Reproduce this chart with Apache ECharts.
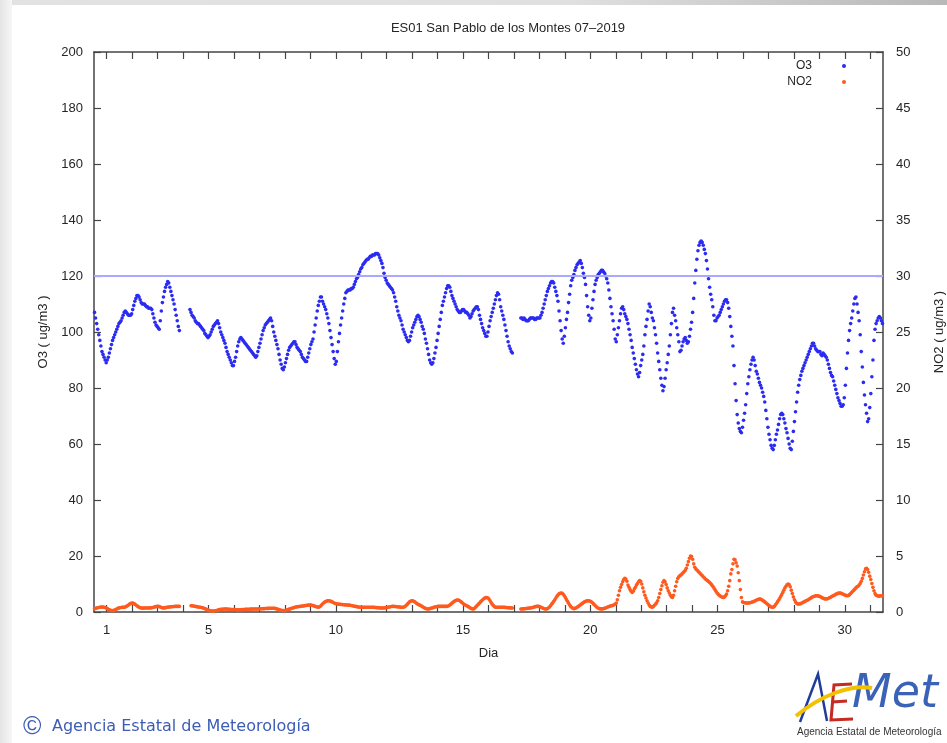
<!DOCTYPE html>
<html>
<head>
<meta charset="utf-8">
<script src="https://cdn.jsdelivr.net/npm/echarts@6/dist/echarts.min.js"></script>
<style>
html,body{margin:0;padding:0;background:#fff;}
#c{width:947px;height:743px;}
</style>
</head>
<body>
<div id="c"></div>
<script>
// ---- data (hourly, one row per day, 24 values) ----
const title = 'ES01 San Pablo de los Montes 07\u20132019';
const xLabels = [1, 5, 10, 15, 20, 25, 30];
const dayTicks = [1,2,3,4,5,6,7,8,9,10,11,12,13,14,15,16,17,18,19,20,21,22,23,24,25,26,27,28,29,30,31];
const o3Ticks = [0,20,40,60,80,100,120,140,160,180,200];
const no2Ticks = [0,5,10,15,20,25,30,35,40,45,50];
const o3Limit = 120;
const _ = null;

const o3 = [
107,105,103,101,99,97,95,93,92,91,90,89,90,91,92.5,94,95.5,97,98,99,100,101,102,103,
103.5,104,105,106,107,107.5,107,106.5,106,106,106,106.5,108,109.5,111,112,113,113,112.5,111.5,110.5,110,110,110,
109.5,109,109,108.5,108.5,108.5,108,106.5,105,103.5,102.5,102,101.5,101,104,107.5,110.5,112.5,114.5,116,117,118,117.5,116,
114.5,113,111.5,110,108,106,104,102,100.5,_,_,_,_,_,_,_,_,_,108,107,106,105.5,105,104,
103.5,103,103,102.5,102,101.5,101,100.5,99.5,99,98.5,98,98.5,99,100,101,102,102.5,103,103.5,104,103,101.5,100,
99,98,97,96,94.5,93,92,91,90,89,88,88,89.5,91,93,95,96.5,97.5,98,97.5,97,96.5,96,95.5,
95,94.5,94,93.5,93,92.5,92,91.5,91,91.5,93,94.5,96,97.5,99,100.5,101.5,102.5,103,103.5,104,104.5,105,104,
102,100,98.5,97,95.5,94,92,90,88.5,87,86.5,87.5,89,90.5,92,93.5,94.5,95,95.5,96,96.5,96.5,95.5,94.5,
94,93.5,93,92,91,90.5,90,89.5,89.5,91,92.5,94,95.5,96.5,97.5,100,102.5,105,107.5,109.5,111,112.5,112.5,111,
110,109,108,106.5,105,103,100.5,98,95.5,93,90.5,88.5,89.5,93,96.5,99.5,102.5,105,107.5,110,112,114,114.5,115,
115,115,115.5,115.5,116,117,118,119,119.5,120.5,121.5,122.5,123,124,124.5,125,125.5,126,126,126.5,127,127,127.5,127.5,
127.5,128,128,128,127.5,126.5,125.5,124.5,123,121,119.5,118.5,117.5,117,116.5,116,115.5,115,114,112.5,111,109,107.5,106,
105,104,102.5,101,100,99,98,97,96.5,97,98.5,100,101.5,102.5,103.5,104.5,105.5,106,105.5,104.5,103.5,102,101,99.5,
97.5,96,94,92,90,89,88.5,89,90.5,92.5,94.5,97,99.5,102,104.5,107,109.5,111,112.5,114,115.5,116.5,116.5,116,
114.5,113,112,111,110,109,108,107.5,107,107,107.5,108,108,107.5,107,107,106.5,106,105,105.5,106.5,107.5,108,108.5,
109,109,108,106,104.5,103,101.5,100.5,99.5,98.5,98.5,100,102,104,105.5,107,108.5,110,111.5,113,114,113.5,111.5,109,
107.5,106,104.5,102.5,100.5,98.5,96.5,95,94,93,92.5,_,_,_,_,_,_,_,105,105,104.5,105,104.5,104,
104,104,104.5,105,105,105,105,104.5,104.5,105,105,105,105,106,107,108.5,110,111.5,113,114.5,115.5,116.5,117.5,118,
118,117.5,116,114.5,113,111,107.5,104,100.5,97.5,96,98.5,101.5,104.5,107,110.5,113.5,116.5,118.5,119.5,120.5,122,123,124,
124.5,125,125.5,124.5,123,121,119.5,117,113,109,106,104,105,108.5,111.5,114.5,117,118.5,119.5,120.5,121,121.5,122,122,
121.5,121,120,119,117.5,115,112,109,106.5,104,101,97.5,96.5,99,101.5,104,106.5,108.5,109,108,106.5,105.5,104.5,103,
101,99,97,94.5,92.5,90.5,88.5,86.5,85,84,85.5,88,90,92,95,99,102,104.5,107.5,110,109,107,105,104,
101.5,99,96,92.5,89.5,86.5,83.5,81,79,80.5,83.5,86.5,89,92,95,99,103,107,108.5,106,104,101.5,99,96.5,
93,93.5,95,96.5,97.5,98,97,96,96.5,98.5,101,103.5,107,112,117.5,122,126,129,131,132,132.5,132,131,129.5,
128,125.5,122.5,119,116,113.5,111.5,109,106,104,104,105,105.5,106,107,108,109,110,111,111.5,111.5,110.5,108.5,105.5,
102,98.5,95,88,81.5,75.5,70.5,67.5,65.5,64.5,64,66,68.5,71,74,78,81.5,84,86.5,88.5,90,91,90,88,
86,85,83.5,82,81,80,78.5,77,75,72,69,66,63.5,61.5,59.5,58.5,58,59.5,61.5,63.5,65,67,69,70.5,
71,70.5,69,67.5,65.5,64,62,60,58.5,58,61,64.5,68,71.5,75,78.5,81,83,84.5,86,87,88,89,90,
91,92,93,94,95,96,96,95,94,93.5,93,93,93,92,91.5,92.5,92,91.5,91,90,88.5,87,85.5,84.5,
84,82.5,81,79.5,78,76.5,75.5,74.5,73.5,73.5,74,76.5,81,87,92.5,97,100.5,103,105,107.5,110,112,112.5,110,
107,104,99,93,87.5,82,77.5,74,71,68,69,73,78,84,90,97,101,103,104,105,105.5,105,104,103
];

const no2 = [
0.3,0.32,0.35,0.38,0.4,0.42,0.44,0.45,0.45,0.43,0.4,0.35,0.3,0.25,0.2,0.15,0.12,0.12,0.14,0.18,0.22,0.27,0.32,0.36,
0.38,0.4,0.42,0.42,0.43,0.45,0.5,0.56,0.63,0.7,0.76,0.8,0.8,0.76,0.7,0.62,0.55,0.48,0.42,0.38,0.36,0.35,0.35,0.36,
0.36,0.36,0.36,0.36,0.36,0.37,0.38,0.4,0.43,0.46,0.48,0.5,0.5,0.48,0.44,0.4,0.37,0.36,0.37,0.39,0.41,0.43,0.44,0.45,
0.46,0.47,0.48,0.49,0.5,0.5,0.5,0.5,0.5,_,_,_,_,_,_,_,_,_,_,0.56,0.56,0.54,0.52,0.5,
0.48,0.46,0.45,0.43,0.42,0.4,0.37,0.33,0.3,0.26,0.22,0.18,0.14,0.11,0.09,0.08,0.08,0.09,0.11,0.13,0.16,0.19,0.21,0.23,
0.24,0.25,0.26,0.27,0.27,0.26,0.25,0.24,0.23,0.22,0.22,0.21,0.21,0.2,0.2,0.2,0.2,0.2,0.2,0.21,0.22,0.22,0.23,0.24,
0.24,0.25,0.25,0.26,0.26,0.27,0.27,0.27,0.27,0.27,0.27,0.28,0.28,0.29,0.29,0.3,0.3,0.31,0.31,0.32,0.32,0.33,0.33,0.33,
0.33,0.33,0.32,0.3,0.27,0.24,0.21,0.18,0.15,0.13,0.12,0.12,0.14,0.17,0.2,0.23,0.26,0.3,0.33,0.36,0.39,0.42,0.44,0.46,
0.48,0.49,0.5,0.51,0.53,0.54,0.56,0.58,0.59,0.6,0.61,0.62,0.62,0.6,0.57,0.54,0.5,0.47,0.44,0.42,0.44,0.52,0.62,0.72,
0.8,0.88,0.94,0.98,1.0,1.0,0.98,0.95,0.9,0.85,0.8,0.76,0.73,0.71,0.7,0.69,0.68,0.67,0.66,0.65,0.64,0.63,0.62,0.62,
0.61,0.6,0.58,0.56,0.54,0.52,0.5,0.48,0.46,0.44,0.43,0.42,0.42,0.42,0.42,0.42,0.42,0.42,0.42,0.42,0.42,0.42,0.42,0.42,
0.41,0.4,0.39,0.38,0.37,0.37,0.36,0.36,0.36,0.36,0.37,0.39,0.41,0.43,0.45,0.47,0.49,0.5,0.5,0.49,0.48,0.47,0.46,0.45,
0.44,0.43,0.42,0.42,0.45,0.52,0.6,0.7,0.8,0.9,0.96,1.0,1.0,0.96,0.9,0.82,0.75,0.69,0.64,0.6,0.55,0.49,0.43,0.37,
0.32,0.29,0.27,0.27,0.29,0.32,0.35,0.38,0.41,0.44,0.47,0.49,0.5,0.5,0.5,0.5,0.5,0.5,0.5,0.5,0.5,0.52,0.56,0.62,
0.7,0.78,0.86,0.94,1.0,1.04,1.07,1.07,1.03,0.96,0.88,0.8,0.72,0.65,0.6,0.56,0.5,0.44,0.38,0.32,0.28,0.27,0.3,0.4,
0.5,0.6,0.7,0.8,0.9,1.0,1.1,1.18,1.24,1.28,1.3,1.25,1.15,1.0,0.85,0.7,0.58,0.48,0.43,0.42,0.42,0.42,0.42,0.42,
0.42,0.42,0.42,0.41,0.4,0.39,0.38,0.37,0.37,0.36,0.36,_,_,_,_,_,_,_,0.27,0.27,0.28,0.29,0.3,0.31,
0.32,0.34,0.35,0.36,0.38,0.4,0.43,0.46,0.48,0.5,0.5,0.5,0.47,0.43,0.38,0.33,0.29,0.27,0.27,0.3,0.36,0.44,0.55,0.7,
0.8,0.95,1.1,1.25,1.4,1.52,1.62,1.67,1.69,1.66,1.58,1.45,1.3,1.12,0.95,0.78,0.62,0.5,0.4,0.33,0.3,0.32,0.36,0.42,
0.48,0.55,0.62,0.7,0.77,0.84,0.9,0.95,0.98,1.0,1.0,0.98,0.93,0.86,0.78,0.68,0.58,0.48,0.4,0.34,0.3,0.28,0.27,0.28,
0.3,0.33,0.36,0.4,0.44,0.48,0.52,0.55,0.57,0.6,0.65,0.72,0.8,1.1,1.5,1.9,2.2,2.45,2.7,2.9,3.0,2.95,2.75,2.4,
2.2,2.0,1.85,1.75,1.85,2.05,2.2,2.4,2.55,2.7,2.8,2.75,2.5,2.15,1.8,1.5,1.25,1.0,0.8,0.62,0.5,0.44,0.42,0.5,
0.6,0.7,0.82,1.0,1.3,1.65,2.0,2.35,2.65,2.8,2.7,2.45,2.15,1.9,1.7,1.5,1.35,1.3,1.5,1.9,2.3,2.7,3.0,3.15,
3.25,3.3,3.4,3.5,3.62,3.7,3.9,4.2,4.5,4.8,5.0,4.95,4.7,4.3,4.0,3.85,3.75,3.65,3.55,3.45,3.35,3.25,3.15,3.05,
2.95,2.88,2.8,2.72,2.64,2.54,2.42,2.3,2.15,2.0,1.85,1.7,1.6,1.5,1.42,1.36,1.32,1.3,1.35,1.45,1.6,1.9,2.3,2.8,
3.4,3.8,4.3,4.7,4.65,4.4,4.1,3.5,2.8,2.0,1.3,0.9,0.85,0.82,0.8,0.8,0.8,0.8,0.82,0.85,0.88,0.92,0.96,1.0,
1.05,1.1,1.14,1.16,1.15,1.1,1.04,0.97,0.9,0.82,0.74,0.66,0.58,0.5,0.45,0.42,0.42,0.5,0.62,0.76,0.9,1.05,1.2,1.38,
1.55,1.75,1.95,2.15,2.3,2.42,2.5,2.45,2.25,1.95,1.65,1.35,1.1,0.9,0.78,0.72,0.71,0.72,0.75,0.8,0.85,0.9,0.95,1.0,
1.05,1.1,1.16,1.22,1.28,1.33,1.38,1.41,1.44,1.45,1.44,1.42,1.38,1.33,1.28,1.23,1.19,1.17,1.16,1.18,1.22,1.27,1.32,1.37,
1.42,1.47,1.52,1.57,1.62,1.66,1.69,1.69,1.67,1.63,1.58,1.53,1.49,1.46,1.45,1.48,1.55,1.65,1.75,1.85,1.95,2.05,2.15,2.25,
2.3,2.4,2.55,2.75,3.0,3.3,3.6,3.85,3.9,3.8,3.55,3.2,2.9,2.55,2.2,1.9,1.65,1.5,1.45,1.42,1.42,1.43,1.45,1.45
];

// x position of hourly sample i: day (1..31) centred on the integer, 24 samples each
function toPairs(arr) {
  return arr.map((v, i) => [0.5 + (i + 0.5) / 24, v]);
}

const chart = echarts.init(document.getElementById('c'), null, {renderer: 'canvas'});
const FONT = 'Liberation Sans, Arial, Helvetica, sans-serif';
const axisColor = '#454545';
const labelColor = '#262626';

chart.setOption({
  animation: false,
  backgroundColor: '#ffffff',
  textStyle: {fontFamily: FONT},
  title: {
    text: title, left: 508, top: 22, textAlign: 'center', padding: 0,
    textStyle: {fontSize: 13, fontWeight: 'normal', color: '#262626', fontFamily: FONT}
  },
  legend: {
    data: ['O3', 'NO2'], orient: 'vertical', align: 'right',
    right: 101, top: 59, padding: 0, itemGap: 2,
    icon: 'circle', itemWidth: 4, itemHeight: 4,
    textStyle: {fontSize: 12, color: labelColor, fontFamily: FONT, padding: [0, 25, 0, 0], lineHeight: 14}
  },
  grid: {left: 94, right: 64, top: 52, bottom: 131, containLabel: false, outerBoundsMode: 'none'},
  xAxis: [{
    type: 'value', min: 0.5, max: 31.5, position: 'bottom',
    name: 'Dia', nameLocation: 'middle', nameGap: 35,
    nameTextStyle: {fontSize: 13, color: labelColor, fontFamily: FONT},
    axisLine: {show: true, onZero: false, lineStyle: {color: axisColor, width: 1.5}},
    axisTick: {show: true, inside: true, length: 7, customValues: dayTicks, lineStyle: {color: axisColor, width: 1.2}},
    axisLabel: {customValues: xLabels, fontSize: 13, color: labelColor, margin: 12, fontFamily: FONT},
    splitLine: {show: false}
  }, {
    type: 'value', min: 0.5, max: 31.5, position: 'top',
    axisLine: {show: true, onZero: false, lineStyle: {color: axisColor, width: 1.5}},
    axisTick: {show: true, inside: true, length: 7, customValues: dayTicks, lineStyle: {color: axisColor, width: 1.2}},
    axisLabel: {show: false},
    splitLine: {show: false}
  }],
  yAxis: [{
    type: 'value', min: 0, max: 200, interval: 20, position: 'left',
    name: 'O3 ( ug/m3 )', nameLocation: 'middle', nameGap: 25, nameRotate: 90,
    nameTextStyle: {fontSize: 13, color: labelColor, fontFamily: FONT},
    axisLine: {show: true, lineStyle: {color: axisColor, width: 1.5}},
    axisTick: {show: true, inside: true, length: 7, customValues: o3Ticks, lineStyle: {color: axisColor, width: 1.2}},
    axisLabel: {fontSize: 13, color: labelColor, margin: 11, fontFamily: FONT},
    splitLine: {show: false}
  }, {
    type: 'value', min: 0, max: 50, interval: 5, position: 'right',
    name: 'NO2 ( ug/m3 )', nameLocation: 'middle', nameGap: 50, nameRotate: 90,
    nameTextStyle: {fontSize: 13, color: labelColor, fontFamily: FONT},
    axisLine: {show: true, lineStyle: {color: axisColor, width: 1.5}},
    axisTick: {show: true, inside: true, length: 7, customValues: no2Ticks, lineStyle: {color: axisColor, width: 1.2}},
    axisLabel: {fontSize: 13, color: labelColor, margin: 13, fontFamily: FONT},
    splitLine: {show: false}
  }],
  series: [{
    name: 'O3', type: 'scatter', xAxisIndex: 0, yAxisIndex: 0,
    data: toPairs(o3), symbol: 'circle', symbolSize: 3.6,
    itemStyle: {color: '#2b2bf2', opacity: 1},
    markLine: {
      silent: true, symbol: ['none', 'none'], label: {show: false},
      lineStyle: {color: '#a9a9ff', width: 2, type: 'solid'},
      data: [{yAxis: o3Limit}]
    },
    z: 3
  }, {
    name: 'NO2', type: 'scatter', xAxisIndex: 0, yAxisIndex: 1,
    data: toPairs(no2), symbol: 'circle', symbolSize: 3.6,
    itemStyle: {color: '#ff5a1e', opacity: 1},
    z: 3
  }],
  graphic: [
    {type: 'rect', left: 0, top: 0, z: -10, shape: {width: 947, height: 5},
     style: {fill: new echarts.graphic.LinearGradient(0, 0, 1, 0, [{offset: 0, color: '#e2e2e2'}, {offset: 0.6, color: '#e0e0e0'}, {offset: 1, color: '#b8b8b8'}])}},
    {type: 'rect', left: 0, top: 0, z: -10, shape: {width: 12, height: 743},
     style: {fill: new echarts.graphic.LinearGradient(0, 0, 1, 0, [{offset: 0, color: '#e4e4e4'}, {offset: 1, color: '#f6f6f6'}])}},
    {type: 'text', left: 23, top: 715, z: 5,
     style: {text: '\u00A9', fontSize: 25, fill: '#3d5db5', fontFamily: FONT}},
    {type: 'text', left: 52, top: 719, z: 5,
     style: {text: 'Agencia Estatal de Meteorolog\u00EDa', fontSize: 16, fill: '#3d5db5', fontFamily: 'DejaVu Sans, sans-serif'}},
    {type: 'polyline', z: 5, shape: {points: [[800, 722], [818, 674], [827, 721]]},
     style: {stroke: '#1f3c9c', lineWidth: 2.5, fill: null}},
    {type: 'bezierCurve', z: 6, shape: {x1: 796, y1: 716, cpx1: 820, cpy1: 696, x2: 872, y2: 688, cpx2: 850, cpy2: 684},
     style: {stroke: '#f2c200', lineWidth: 4, fill: null}},
    {type: 'polyline', z: 5, shape: {points: [[852, 684], [834, 685], [831, 720], [853, 719]]},
     style: {stroke: '#c42b22', lineWidth: 3, fill: null}},
    {type: 'polyline', z: 5, shape: {points: [[832, 702], [847, 701]]},
     style: {stroke: '#c42b22', lineWidth: 3, fill: null}},
    {type: 'text', left: 852, top: 672, z: 5,
     style: {text: 'Met', fontSize: 46, fontStyle: 'italic', fill: '#3a62b8', fontFamily: 'DejaVu Sans, sans-serif'}},
    {type: 'text', left: 797, top: 727, z: 5,
     style: {text: 'Agencia Estatal de Meteorolog\u00EDa', fontSize: 10, fill: '#333', fontFamily: FONT}}
  ]
});
</script>
</body>
</html>
